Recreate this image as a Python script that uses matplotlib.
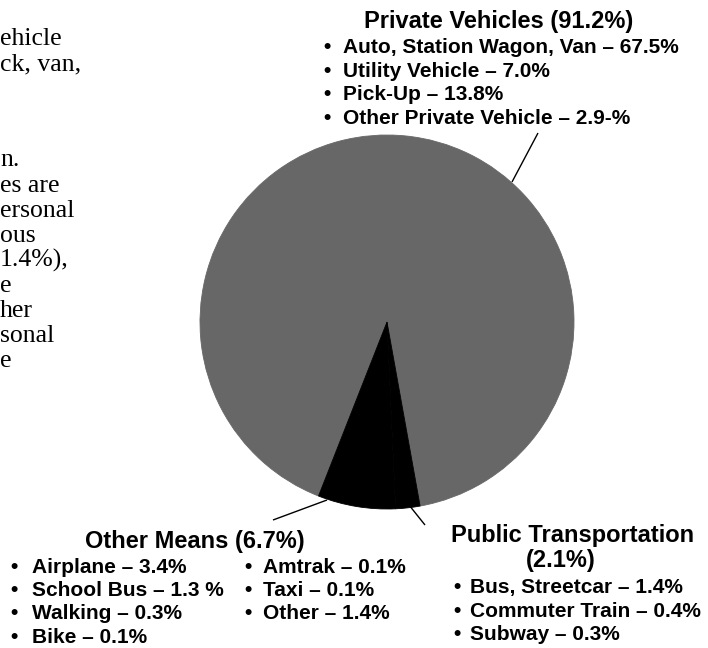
import matplotlib
matplotlib.use("Agg")
import matplotlib.pyplot as plt

# ---- data ----
group_names = ["Private Vehicles", "Other Means", "Public Transportation"]
group_shares = [91.2, 6.7, 2.1]
group_colors = ["#676767", "#000000", "#000000"]

private_title = "Private Vehicles (91.2%)"
private_items = ["Auto, Station Wagon, Van – 67.5%",
                 "Utility Vehicle – 7.0%",
                 "Pick-Up – 13.8%",
                 "Other Private Vehicle – 2.9-%"]

other_title = "Other Means (6.7%)"
other_items_col1 = ["Airplane – 3.4%", "School Bus – 1.3 %", "Walking – 0.3%", "Bike – 0.1%"]
other_items_col2 = ["Amtrak – 0.1%", "Taxi – 0.1%", "Other – 1.4%"]

public_title = "Public Transportation"
public_share_label = "(2.1%)"
public_items = ["Bus, Streetcar – 1.4%", "Commuter Train – 0.4%", "Subway – 0.3%"]

body_lines = ["ehicle", "ck, van,", "n.", "es are", "ersonal", "ous",
              "1.4%),", "e", "her", "sonal", "e"]

# ---- layout (pixel space) ----
W, H = 708, 648
def Y(y):
    return H - y

fig = plt.figure(figsize=(W / 100, H / 100), dpi=100)
ax = fig.add_axes([0, 0, 1, 1])

wedges, _ = ax.pie(group_shares, colors=group_colors, startangle=280.2, counterclock=True,
                   center=(387, Y(322)), radius=187,
                   wedgeprops=dict(linewidth=0.6))
for w, c in zip(wedges, group_colors):
    w.set_edgecolor(c)
ax.set_xlim(0, W)
ax.set_ylim(0, H)
ax.set_aspect("equal")
ax.axis("off")

sans = "Liberation Sans"
serif = "Liberation Serif"

# leader lines
for (x0, y0), (x1, y1) in [((538, 133), (512, 182)),
                           ((327, 500), (273, 520)),
                           ((405, 500), (425, 525))]:
    ax.plot([x0, x1], [Y(y0), Y(y1)], color="black", lw=1.0, solid_capstyle="butt")

def bullet_list(items, xb, xt, baselines, size=15):
    for s, yb in zip(items, baselines):
        ax.text(xb, Y(yb), "•", ha="center", va="baseline", fontsize=size,
                family=sans, weight="bold", color="black")
        ax.text(xt, Y(yb), s, ha="left", va="baseline", fontsize=size,
                family=sans, weight="bold", color="black")

# Private vehicles block
ax.text(499, Y(28), private_title, ha="center", va="baseline", fontsize=17,
        family=sans, weight="bold")
bullet_list(private_items, 327, 343, [53, 77, 100, 124])

# Other means block
ax.text(195, Y(548), other_title, ha="center", va="baseline", fontsize=17,
        family=sans, weight="bold")
bullet_list(other_items_col1, 14, 32, [573, 596, 619, 643])
bullet_list(other_items_col2, 248, 263, [573, 596, 619])

# Public transportation block
ax.text(573, Y(542), public_title, ha="center", va="baseline", fontsize=17,
        family=sans, weight="bold")
ax.text(561, Y(567), public_share_label, ha="center", va="baseline", fontsize=17,
        family=sans, weight="bold")
bullet_list(public_items, 457, 470, [593, 617, 640])

# cropped body text at left edge
body_baselines = [45, 70, 166, 192, 217, 242, 267, 292, 317, 342, 367]
for s, yb in zip(body_lines, body_baselines):
    ax.text(0, Y(yb), s, ha="left", va="baseline", fontsize=18.5,
            family=serif, color="black")

fig.savefig("out.png", dpi=100)
